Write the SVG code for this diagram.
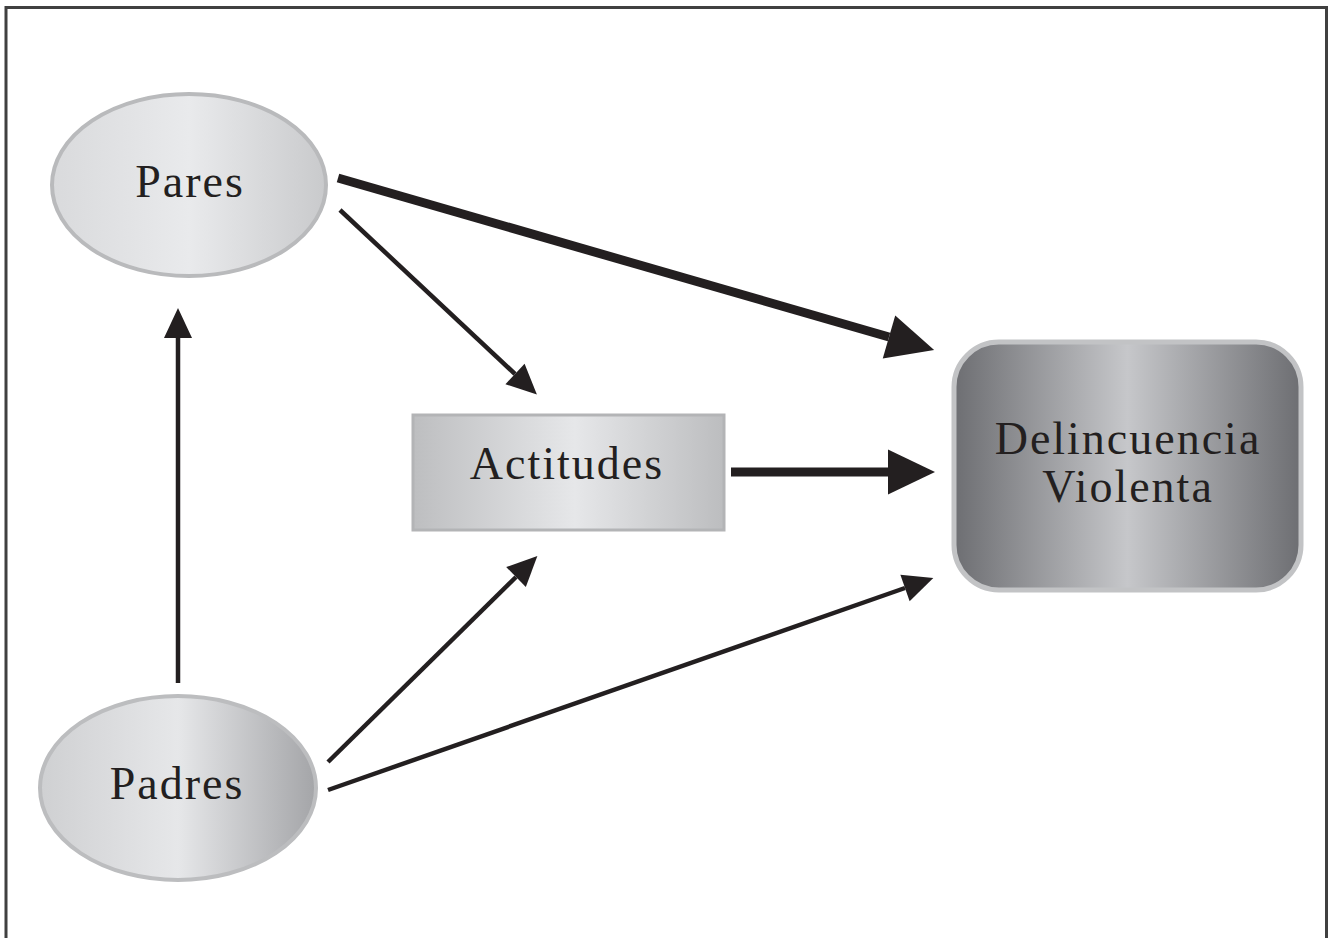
<svg xmlns="http://www.w3.org/2000/svg" width="1328" height="938" viewBox="0 0 1328 938">
<style>
.lbl{font-family:"Liberation Serif","Times New Roman",serif;font-size:46px;letter-spacing:2px;fill:#231f20;text-anchor:middle}
.ln{stroke:#231f20;fill:none;stroke-linecap:butt}
.thin{stroke-width:4.5}
.thick{stroke-width:9}
</style>
<defs>
<linearGradient id="gPares" x1="0" y1="0" x2="1" y2="0">
<stop offset="0" stop-color="#d9dadc"/><stop offset="0.5" stop-color="#e9eaec"/><stop offset="1" stop-color="#c9cacc"/>
</linearGradient>
<linearGradient id="gPadres" x1="0" y1="0" x2="1" y2="0">
<stop offset="0" stop-color="#cfd0d2"/><stop offset="0.5" stop-color="#e6e7e9"/><stop offset="1" stop-color="#a4a5a8"/>
</linearGradient>
<linearGradient id="gAct" x1="0" y1="0" x2="1" y2="0">
<stop offset="0" stop-color="#bdbec0"/><stop offset="0.52" stop-color="#e6e7e9"/><stop offset="1" stop-color="#bcbdbf"/>
</linearGradient>
<linearGradient id="gDel" x1="0" y1="0" x2="1" y2="0">
<stop offset="0" stop-color="#6d6e72"/><stop offset="0.5" stop-color="#c6c7ca"/><stop offset="1" stop-color="#6d6e72"/>
</linearGradient>
<marker id="hThin" markerUnits="userSpaceOnUse" markerWidth="32" markerHeight="30" refX="0" refY="14" orient="auto" overflow="visible">
<path d="M0,0 L30,14 L0,28 Z" fill="#231f20"/>
</marker>
<marker id="hThick" markerUnits="userSpaceOnUse" markerWidth="50" markerHeight="48" refX="0" refY="22.5" orient="auto" overflow="visible">
<path d="M0,0 L47,22.5 L0,45 Z" fill="#231f20"/>
</marker>
</defs>
<rect x="0" y="0" width="1328" height="938" fill="#ffffff"/>
<path d="M6,940 V7.5 H1326.5 V940" fill="none" stroke="#404040" stroke-width="3"/>

<g id="connectors">
<line class="ln thick" x1="338" y1="178" x2="889" y2="337" marker-end="url(#hThick)"/>
<line class="ln thin" x1="340" y1="210" x2="515" y2="374" marker-end="url(#hThin)"/>
<line class="ln thin" x1="178" y1="683" x2="178" y2="338" marker-end="url(#hThin)"/>
<line class="ln thick" x1="731" y1="472" x2="888" y2="472" marker-end="url(#hThick)"/>
<line class="ln thin" x1="328" y1="762" x2="516" y2="577" marker-end="url(#hThin)"/>
<line class="ln thin" x1="328" y1="790" x2="905" y2="588" marker-end="url(#hThin)"/>
</g>

<g id="pares">
<ellipse cx="189" cy="185" rx="137" ry="91" fill="url(#gPares)" stroke="#b9babc" stroke-width="4"/>
<text class="lbl" x="190" y="197">Pares</text>
</g>

<g id="padres">
<ellipse cx="178" cy="788" rx="138" ry="92" fill="url(#gPadres)" stroke="#bcbdbf" stroke-width="4"/>
<text class="lbl" x="177" y="799">Padres</text>
</g>

<g id="actitudes">
<rect x="413" y="415" width="311" height="115" fill="url(#gAct)" stroke="#b3b4b6" stroke-width="3"/>
<text class="lbl" x="567" y="479">Actitudes</text>
</g>

<g id="delincuencia">
<rect x="954" y="342" width="347" height="248" rx="45" ry="45" fill="url(#gDel)" stroke="#c2c3c5" stroke-width="5"/>
<text class="lbl" x="1128" y="454">Delincuencia</text>
<text class="lbl" x="1128" y="502">Violenta</text>
</g>
</svg>
